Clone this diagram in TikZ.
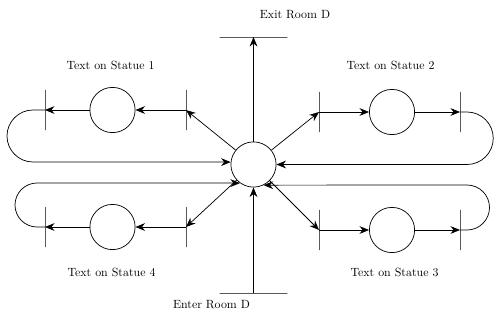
\documentclass[tikz,border=0pt]{standalone}
\usetikzlibrary{arrows.meta}
\begin{document}
\begin{tikzpicture}[x=8.4pt,y=8.4pt,line width=0.6pt,>={Stealth[length=8pt,width=6.5pt]},
	place/.style={draw,circle,inner sep=0pt,minimum size=38pt},
	vbar/.style={draw,inner sep=0pt,minimum width=0pt,minimum height=34pt},
	hbar/.style={draw,inner sep=0pt,minimum height=0pt,minimum width=57pt}]
	\useasboundingbox (0,0) rectangle (49.4,32);
	\node[place] (room) at (25.35,15.55) {};
	\node[hbar] (exit) at (25.35,28.3) {};
	\node[hbar] (enter) at (25.35,2.7) {};
	\node (exittext) at (29.5,30.5) {Exit Room D};
	\node (entertext) at (21.15,1.5) {Enter Room D};
	% statue 1
	\node[vbar] (s1in) at (18.6,21.0) {};
	\node[place] (s1) at (11.25,21.0) {};
	\node[vbar] (s1out) at (4.5,21.0) {};
	\node (s1text) at (11.05,25.5) {Text on Statue 1};
	% statue 2
	\node[vbar] (s2in) at (31.9,20.8) {};
	\node[place] (s2) at (39.2,20.8) {};
	\node[vbar] (s2out) at (46.0,20.8) {};
	\node (s2text) at (39.05,25.5) {Text on Statue 2};
	% statue 3
	\node[vbar] (s3in) at (31.9,9.0) {};
	\node[place] (s3) at (39.2,9.0) {};
	\node[vbar] (s3out) at (46.0,9.0) {};
	\node (s3text) at (39.45,4.8) {Text on Statue 3};
	% statue 4
	\node[vbar] (s4in) at (18.6,9.3) {};
	\node[place] (s4) at (11.25,9.3) {};
	\node[vbar] (s4out) at (4.5,9.3) {};
	\node (s4text) at (11.15,4.8) {Text on Statue 4};
	\draw[->] (room) -- (exit.center);
	\draw[->] (enter.center) -- (room);
	\draw[->] (room) -- (s1in.center);
	\draw[->] (s1in.center) -- (s1);
	\draw[->] (s1) -- (s1out.center);
	\draw[->] (s1out.center) -- ++(-1.2,0) arc[start angle=90,end angle=270,radius=2.6] -- (room.174);
	\draw[->] (room) -- (s2in.center);
	\draw[->] (s2in.center) -- (s2);
	\draw[->] (s2) -- (s2out.center);
	\draw[->] (s2out.center) -- ++(0.7,0) arc[start angle=90,end angle=-90,radius=2.625] -- (room.east);
	\draw[->] (room) -- (s3in.center);
	\draw[->] (s3in.center) -- (s3);
	\draw[->] (s3) -- (s3out.center);
	\draw[->] (s3out.center) -- ++(0.7,0) arc[start angle=-90,end angle=90,radius=2.25] -- (room.296);
	\draw[->] (room) -- (s4in.center);
	\draw[->] (s4in.center) -- (s4);
	\draw[->] (s4) -- (s4out.center);
	\draw[->] (s4out.center) -- ++(-0.8,0) arc[start angle=270,end angle=90,radius=2.2] -- (room.234);
\end{tikzpicture}
\end{document}
